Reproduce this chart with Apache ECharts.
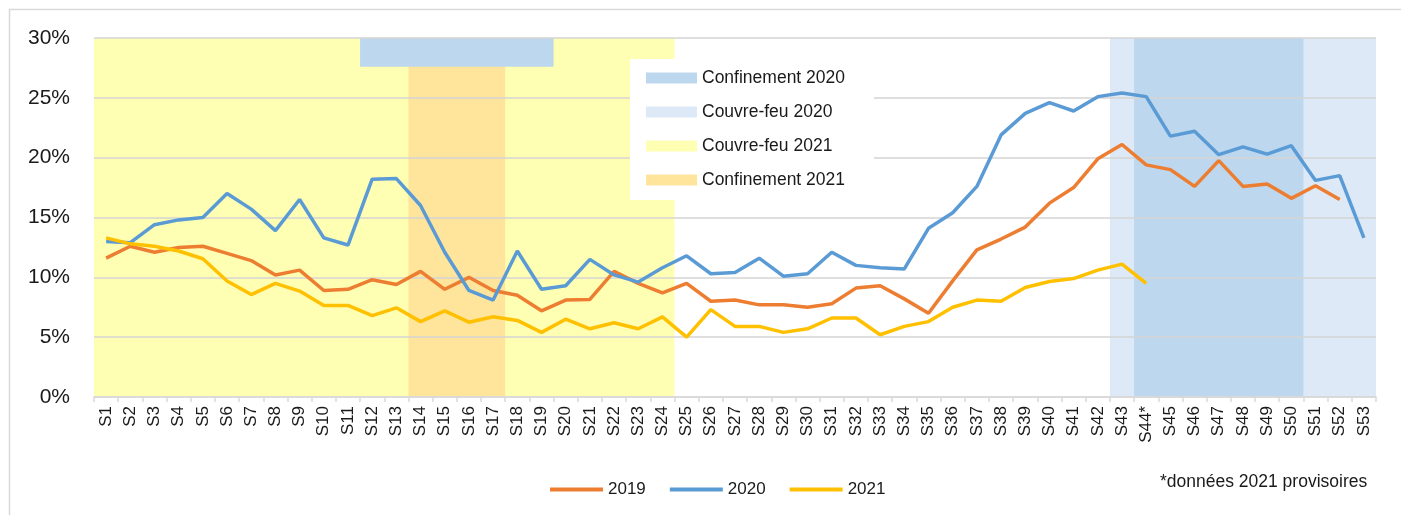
<!DOCTYPE html>
<html><head><meta charset="utf-8">
<script src="https://cdn.jsdelivr.net/npm/echarts@6/dist/echarts.min.js"></script>
<style>html,body{margin:0;padding:0;background:#fff}#c{width:1401px;height:515px}</style>
</head><body><div id="c"></div>
<script>
const weeks = ['S1','S2','S3','S4','S5','S6','S7','S8','S9','S10','S11','S12','S13','S14','S15','S16','S17','S18','S19','S20',
  'S21','S22','S23','S24','S25','S26','S27','S28','S29','S30','S31','S32','S33','S34','S35','S36','S37','S38','S39','S40',
  'S41','S42','S43','S44*','S45','S46','S47','S48','S49','S50','S51','S52','S53'];
const y2019 = [11.6,12.6,12.1,12.5,12.6,12.0,11.4,10.2,10.6,8.9,
  9.0,9.8,9.4,10.5,9.0,10.0,8.9,8.5,7.2,8.1,
  8.15,10.5,9.5,8.7,9.5,8.0,8.1,7.7,7.7,7.5,
  7.8,9.1,9.3,8.2,7.0,9.7,12.3,13.2,14.2,16.2,
  17.5,19.9,21.1,19.4,19.0,17.6,19.75,17.6,17.8,16.6,
  17.65,16.5,'-'];
const y2020 = [13.0,12.9,14.4,14.8,15.0,17.0,15.7,13.9,16.5,13.3,
  12.7,18.2,18.25,16.0,12.1,8.9,8.1,12.2,9.0,9.3,
  11.5,10.2,9.6,10.8,11.8,10.3,10.4,11.6,10.1,10.3,
  12.1,11.0,10.8,10.7,14.1,15.4,17.6,21.9,23.7,24.6,
  23.9,25.1,25.4,25.1,21.8,22.2,20.25,20.9,20.3,21.0,
  18.1,18.5,13.3];
const y2021 = [13.3,12.8,12.6,12.2,11.55,9.7,8.56,9.5,8.85,7.65,
  7.65,6.8,7.45,6.3,7.2,6.25,6.7,6.4,5.4,6.5,
  5.7,6.2,5.7,6.7,5.0,7.3,5.9,5.9,5.4,5.7,
  6.6,6.6,5.2,5.9,6.3,7.5,8.1,8.0,9.15,9.65,
  9.9,10.6,11.1,9.5];
const yTicks = [0,5,10,15,20,25,30];
// periods: first week, last week, bottom of band (%)
const couvreFeu2021 = [['S1','S24',0]];
const confinement2021 = [['S14','S17',0]];
const confinement2020 = [['S12','S19',27.6],['S44*','S50',0]];
const couvreFeu2020 = [['S43','S53',0]];

const FONT = "'Liberation Sans',Arial,sans-serif";
const yMax = yTicks[yTicks.length-1];
function areas(periods){
  return periods.map(p => [
    {xAxis: weeks.indexOf(p[0]), yAxis: p[2]},
    {xAxis: weeks.indexOf(p[1]) + 1, yAxis: yMax}
  ]);
}
function bandSeries(name, periods, color){
  return {name:name, type:'line', xAxisIndex:1, data:[], z:0, silent:true, animation:false,
    itemStyle:{color:color}, lineStyle:{color:color},
    markArea:{silent:true, animation:false, itemStyle:{color:color, opacity:1}, data:areas(periods)}};
}
const lineCommon = {type:'line', symbol:'none', z:5, animation:false, connectNulls:false};

const chart = echarts.init(document.getElementById('c'));
chart.setOption({
  animation:false,
  backgroundColor:'#fff',
  grid:{left:94, right:25, top:38, bottom:118},
  xAxis:[
    {type:'category', data:weeks, z:3,
      axisLine:{lineStyle:{color:'#D9D9D9', width:1.5}},
      axisTick:{show:true, length:5, lineStyle:{color:'#D9D9D9', width:1.5}},
      axisLabel:{interval:0, rotate:90, margin:9, color:'#1a1a1a', fontSize:17, fontFamily:FONT}
    },
    {type:'value', min:0, max:weeks.length, show:false}
  ],
  yAxis:{type:'value', min:0, max:yMax, interval:5, z:3,
    axisLine:{show:false}, axisTick:{show:false},
    splitLine:{lineStyle:{color:'#D4D4D4', width:1.5}},
    axisLabel:{formatter:'{value}%', margin:24, color:'#1a1a1a', fontSize:21, fontFamily:FONT}
  },
  legend:[
    {data:[{name:'Confinement 2020'},{name:'Couvre-feu 2020'},{name:'Couvre-feu 2021'},{name:'Confinement 2021'}],
     orient:'vertical', left:630, top:59, icon:'rect', itemWidth:51, itemHeight:11, itemGap:12,
     padding:[8,29,9,16], backgroundColor:'#fff', z:10, selectedMode:false,
     textStyle:{fontSize:17.5, lineHeight:22, color:'#1a1a1a', fontFamily:FONT}},
    {data:['2019','2020','2021'], left:545, top:476, icon:'rect', itemWidth:53, itemHeight:4, itemGap:24,
     selectedMode:false, z:10,
     textStyle:{fontSize:17, color:'#1a1a1a', fontFamily:FONT}}
  ],
  graphic:[
    {type:'rect', shape:{x:9.5, y:9.5, width:1420, height:540}, style:{fill:'none', stroke:'#D9D9D9', lineWidth:1.5}, silent:true},
    {type:'text', left:1160, top:473, style:{text:'*données 2021 provisoires', font:"17.5px "+FONT, fill:'#1a1a1a'}}
  ],
  series:[
    bandSeries('Couvre-feu 2021', couvreFeu2021, '#FFFFB3'),
    bandSeries('Confinement 2021', confinement2021, '#FFE49C'),
    bandSeries('Couvre-feu 2020', couvreFeu2020, '#DDE9F6'),
    bandSeries('Confinement 2020', confinement2020, '#BDD7EE'),
    Object.assign({name:'2019', data:y2019, itemStyle:{color:'#ED7D31'}, lineStyle:{width:3.5, color:'#ED7D31'}}, lineCommon),
    Object.assign({name:'2020', data:y2020, itemStyle:{color:'#5B9BD5'}, lineStyle:{width:3.5, color:'#5B9BD5'}}, lineCommon),
    Object.assign({name:'2021', data:y2021, itemStyle:{color:'#FFC000'}, lineStyle:{width:3.5, color:'#FFC000'}}, lineCommon)
  ]
});
</script></body></html>
